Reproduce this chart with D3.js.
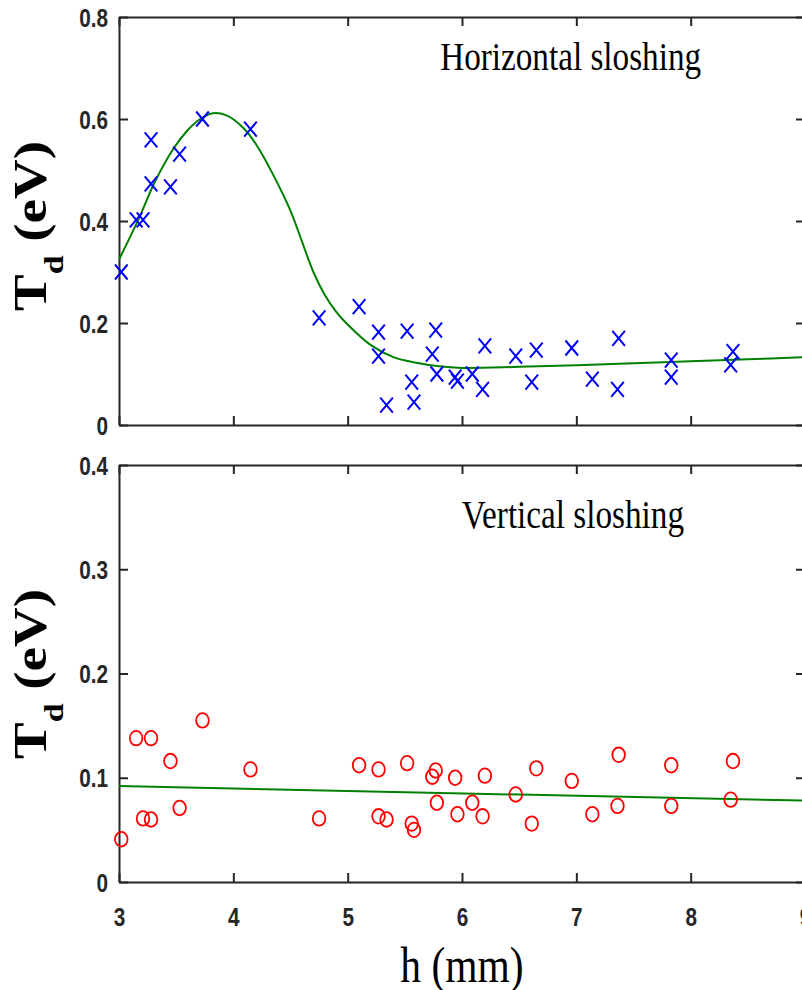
<!DOCTYPE html>
<html>
<head>
<meta charset="utf-8">
<script src="https://cdn.jsdelivr.net/npm/d3@7"></script>
<style>
  body { margin: 0; background: #fff; }
  .axis path, .axis line { stroke: #262626; stroke-width: 2; }
  .tick text { font-family: 'Liberation Sans', Arial, sans-serif; font-weight: bold; font-size: 25px; fill: #262626; }
</style>
</head>
<body>
<div id="chart"></div>
<script>
// measurement positions (mm), shared by both panels
const hValues = [3.02, 3.15, 3.21, 3.28, 3.28, 3.45, 3.53, 3.73, 4.15, 4.75, 5.10, 5.27, 5.27, 5.34, 5.52, 5.56,
  5.58, 5.74, 5.77, 5.78, 5.94, 5.96, 6.09, 6.18, 6.20, 6.47, 6.61, 6.65, 6.96, 7.14, 7.36, 7.37, 7.83, 7.83, 8.35, 8.37];
// horizontal sloshing T_d (eV)
const horizT = [0.300, 0.402, 0.402, 0.473, 0.559, 0.467, 0.531, 0.600, 0.580, 0.210, 0.232, 0.182, 0.135, 0.039, 0.184, 0.084,
  0.045, 0.139, 0.186, 0.100, 0.094, 0.086, 0.100, 0.070, 0.155, 0.135, 0.084, 0.147, 0.151, 0.090, 0.070, 0.170, 0.127, 0.094, 0.118, 0.144];
// vertical sloshing T_d (eV)
const vertT = [0.041, 0.138, 0.061, 0.060, 0.138, 0.116, 0.071, 0.155, 0.108, 0.061, 0.112, 0.108, 0.063, 0.060, 0.114, 0.056,
  0.050, 0.101, 0.107, 0.076, 0.100, 0.065, 0.076, 0.063, 0.102, 0.084, 0.056, 0.109, 0.097, 0.065, 0.073, 0.122, 0.112, 0.073, 0.079, 0.116];

// green fit curves
const fitH = [3.0, 3.18, 3.31, 3.48, 3.6, 3.71, 3.81, 3.94, 4.09, 4.2, 4.35, 4.5, 4.6, 4.7, 4.8, 4.9, 5.0, 5.2, 5.4, 5.6, 5.8, 6.0, 6.5, 7.0, 7.5, 8.0, 8.5, 9.0];
const fitT = [0.324, 0.408, 0.475, 0.543, 0.578, 0.600, 0.611, 0.607, 0.582, 0.550, 0.49, 0.42, 0.36, 0.30, 0.255, 0.222, 0.197, 0.157, 0.133, 0.122, 0.115, 0.112, 0.114, 0.117, 0.121, 0.125, 0.129, 0.133];
const lineH = [3, 9];
const lineT = [0.092, 0.078];

const xTicks = [3, 4, 5, 6, 7, 8, 9];
const xTickLabels = ['3', '4', '5', '6', '7', '8', '9'];
const topTicks = [0, 0.2, 0.4, 0.6, 0.8];
const topTickLabels = ['0', '0.2', '0.4', '0.6', '0.8'];
const bottomTicks = [0, 0.1, 0.2, 0.3, 0.4];
const bottomTickLabels = ['0', '0.1', '0.2', '0.3', '0.4'];

const SX = 0.83; // figure text is squeezed horizontally
const SERIF = "'Liberation Serif', 'DejaVu Serif', 'Times New Roman', Times, serif";
const left = 119, right = 805;

const svg = d3.select('#chart').append('svg').attr('width', 802).attr('height', 990);

const x = d3.scaleLinear().domain([3, 9]).range([left, right]);
const yTop = d3.scaleLinear().domain([0, 0.8]).range([425, 17]);
const yBot = d3.scaleLinear().domain([0, 0.4]).range([882, 465]);

function drawAxes(y, ticks, labels, xLabels) {
  const [y0, y1] = y.range();
  const g = svg.append('g');
  // bottom
  const b = g.append('g').attr('class', 'axis').attr('transform', `translate(0,${y0})`)
    .call(d3.axisBottom(x).tickValues(xTicks).tickFormat((d, i) => xTickLabels[i]).tickSizeInner(-9).tickSizeOuter(0));
  if (xLabels) {
    b.selectAll('text').attr('y', 0).attr('dy', 0)
      .attr('transform', 'translate(0,44) scale(' + SX + ',1)');
  } else {
    b.selectAll('text').remove();
  }
  // top
  g.append('g').attr('class', 'axis').attr('transform', `translate(0,${y1})`)
    .call(d3.axisTop(x).tickValues(xTicks).tickSizeInner(-9).tickSizeOuter(0))
    .selectAll('text').remove();
  // left
  g.append('g').attr('class', 'axis').attr('transform', `translate(${left},0)`)
    .call(d3.axisLeft(y).tickValues(ticks).tickFormat((d, i) => labels[i]).tickSizeInner(-9).tickSizeOuter(0))
    .selectAll('text').attr('x', 0).attr('dy', '0.36em')
    .attr('transform', 'translate(-11,0) scale(' + SX + ',1)');
  // right
  g.append('g').attr('class', 'axis').attr('transform', `translate(${right},0)`)
    .call(d3.axisRight(y).tickValues(ticks).tickSizeInner(-9).tickSizeOuter(0))
    .selectAll('text').remove();
}

function title(tx, ty, size, str) {
  return svg.append('text')
    .attr('transform', `translate(${tx},${ty}) scale(${SX},1)`)
    .attr('text-anchor', 'middle')
    .attr('font-family', SERIF).attr('font-size', size)
    .text(str);
}

function yLabel(cy) {
  const t = svg.append('text')
    .attr('transform', `translate(46,${cy}) scale(${SX},1) rotate(-90)`)
    .attr('text-anchor', 'middle')
    .attr('font-family', SERIF).attr('font-size', 55).attr('font-weight', 'bold');
  t.append('tspan').text('T');
  t.append('tspan').attr('dy', 20).attr('font-size', 34).text('d');
  t.append('tspan').attr('dy', -20).text(' (eV)');
}

// ---- top panel: horizontal sloshing ----
drawAxes(yTop, topTicks, topTickLabels, false);
svg.append('path')
  .datum(d3.zip(fitH, fitT))
  .attr('fill', 'none').attr('stroke', '#008000').attr('stroke-width', 2)
  .attr('d', d3.line().x(d => x(d[0])).y(d => yTop(d[1])).curve(d3.curveCatmullRom.alpha(0.5)));

svg.append('g').selectAll('path')
  .data(d3.zip(hValues, horizT))
  .enter().append('path')
  .attr('transform', d => `translate(${x(d[0])},${yTop(d[1])})`)
  .attr('d', 'M-6.3,-7.5L6.3,7.5M-6.3,7.5L6.3,-7.5')
  .attr('stroke', '#0000ff').attr('stroke-width', 2).attr('fill', 'none');

title(x(6.95), yTop(0.697), 40, 'Horizontal sloshing');
yLabel(226);

// ---- bottom panel: vertical sloshing ----
drawAxes(yBot, bottomTicks, bottomTickLabels, true);
svg.append('path')
  .datum(d3.zip(lineH, lineT))
  .attr('fill', 'none').attr('stroke', '#008000').attr('stroke-width', 2)
  .attr('d', d3.line().x(d => x(d[0])).y(d => yBot(d[1])));

svg.append('g').selectAll('ellipse')
  .data(d3.zip(hValues, vertT))
  .enter().append('ellipse')
  .attr('cx', d => x(d[0])).attr('cy', d => yBot(d[1]))
  .attr('rx', 6.3).attr('ry', 7.3)
  .attr('stroke', '#ff0000').attr('stroke-width', 1.8).attr('fill', 'none');

title(x(6.97), yBot(0.34), 40, 'Vertical sloshing');
yLabel(674);

// x axis title
title((left + right) / 2, 982, 50, 'h (mm)');
</script>
</body>
</html>
